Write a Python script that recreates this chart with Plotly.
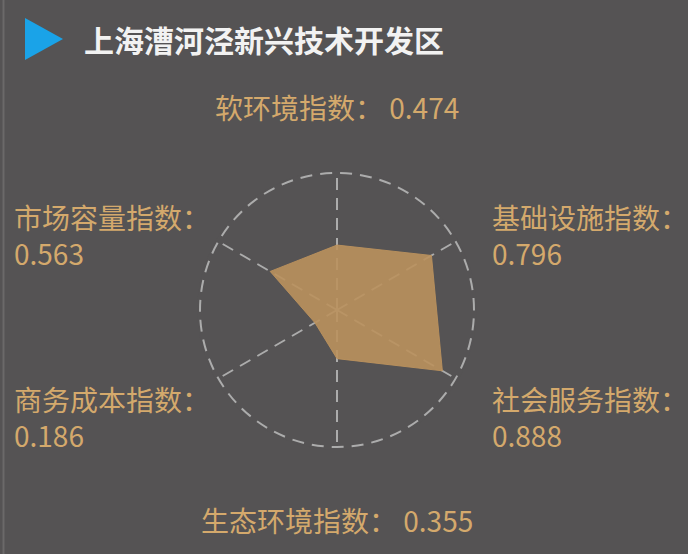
import plotly.graph_objects as go

W, H = 688, 554

title = "上海漕河泾新兴技术开发区"
categories = ["软环境指数", "基础设施指数", "社会服务指数", "生态环境指数", "商务成本指数", "市场容量指数"]
values = [0.474, 0.796, 0.888, 0.355, 0.186, 0.563]

BG = "#555354"
TAN = "#d4a96c"
GRID = "#acacac"

fig = go.Figure()
fig.add_trace(go.Scatterpolar(
    r=values + [values[0]],
    theta=categories + [categories[0]],
    fill="toself",
    fillcolor="rgba(186,145,93,0.9)",
    line=dict(color="rgba(186,145,93,0.9)", width=1),
    mode="lines",
    hoverinfo="skip",
    showlegend=False,
))

def px(x):
    return x / W

def py(y):
    return 1 - y / H

RMAX = 1.02
cx, cy, R = 337, 310, 137 * RMAX

fig.update_layout(
    width=W, height=H,
    margin=dict(l=0, r=0, t=0, b=0),
    paper_bgcolor=BG,
    plot_bgcolor=BG,
    font=dict(family="Noto Sans CJK SC, sans-serif", color=TAN),
    polar=dict(
        bgcolor=BG,
        domain=dict(x=[px(cx - R), px(cx + R)], y=[py(cy + R), py(cy - R)]),
        radialaxis=dict(range=[0, RMAX], tickvals=[1], showticklabels=False, ticks="",
                        showline=False, gridcolor=GRID, griddash="12px,8px", gridwidth=1.5),
        angularaxis=dict(rotation=90, direction="clockwise", showticklabels=False, ticks="",
                         showline=False, gridcolor=GRID, griddash="12px,8px", gridwidth=1.5,
                         categoryorder="array", categoryarray=categories),
    ),
)

# title
fig.add_annotation(x=px(82), y=py(39), xref="paper", yref="paper", xanchor="left", yanchor="middle",
                   text="<b>" + title + "</b>", showarrow=False,
                   font=dict(size=30, color="#f2f2f2", family="Noto Sans CJK SC, sans-serif"))
# triangle
fig.add_shape(type="path", xref="paper", yref="paper",
              path=f"M {px(25)} {py(18)} L {px(63)} {py(39)} L {px(25)} {py(60)} Z",
              fillcolor="#1aa3e8", line=dict(width=0))
# left thin border
fig.add_shape(type="line", xref="paper", yref="paper", x0=px(3.5), x1=px(3.5), y0=0, y1=1,
              line=dict(color="#6b6969", width=2))

fs = 28
label_pos = [
    (337, 107, "center", False),
    (490, 235, "left", True),
    (490, 417, "left", True),
    (337, 520, "center", False),
    (12, 417, "left", True),
    (12, 235, "left", True),
]
for cat, v, (x, y, anchor, two) in zip(categories, values, label_pos):
    sep = "：<br>" if two else "： "
    fig.add_annotation(x=px(x), y=py(y), xref="paper", yref="paper", xanchor=anchor, yanchor="middle",
                       align="left", text=f"{cat}{sep}{v:.3f}", showarrow=False,
                       font=dict(size=fs, color=TAN))

fig.write_html("out.html", config={"displayModeBar": False},
               post_script="document.body.style.margin='0';document.body.style.overflow='hidden';")
